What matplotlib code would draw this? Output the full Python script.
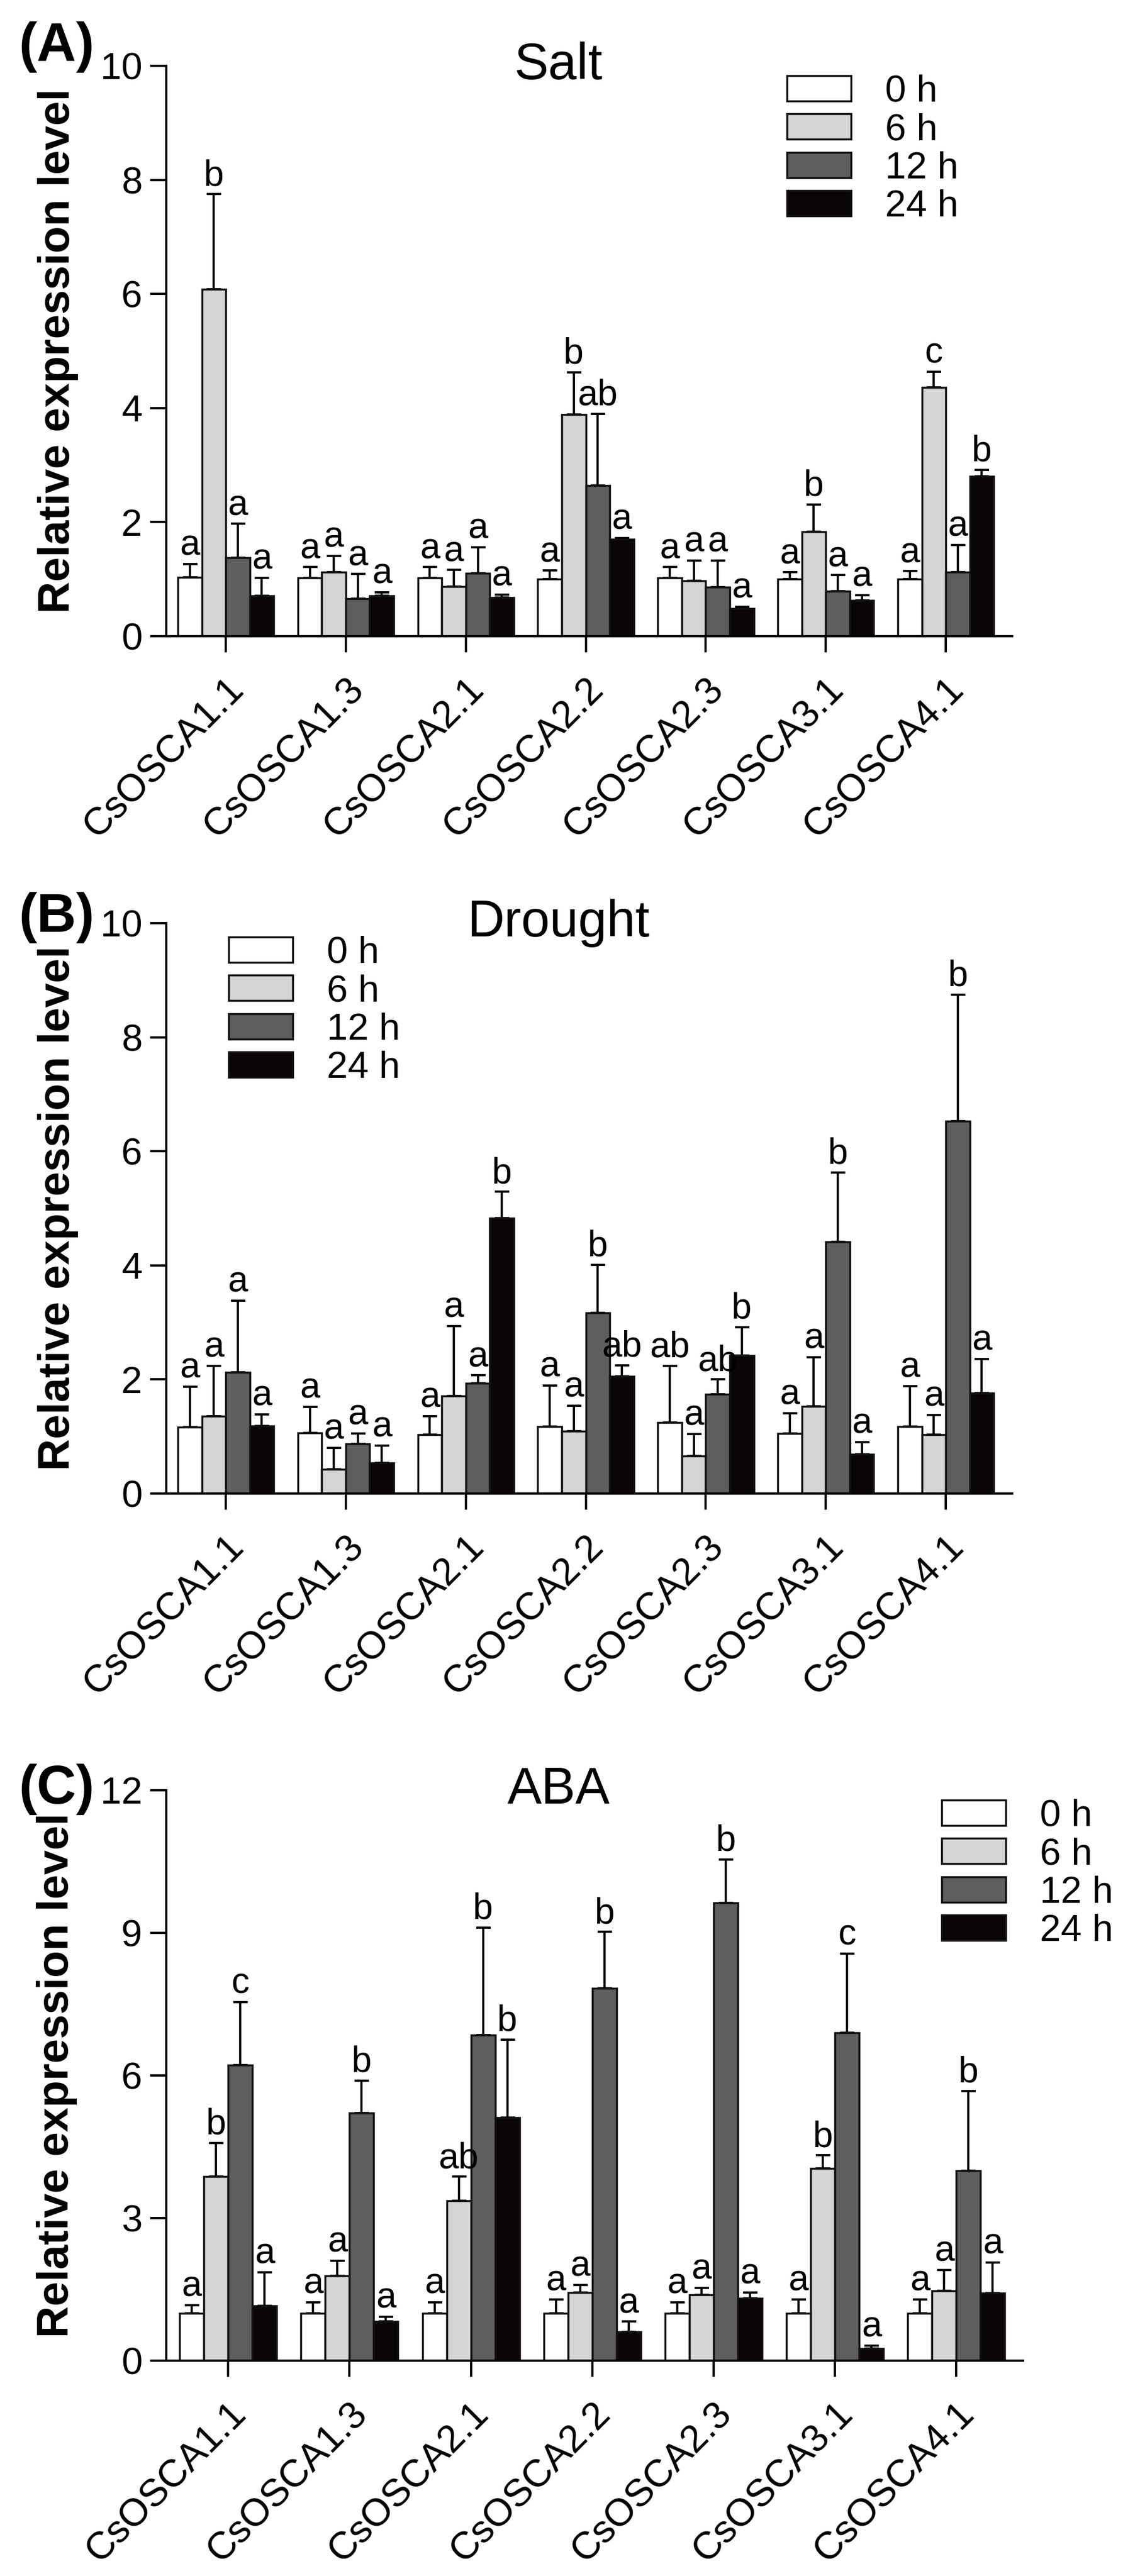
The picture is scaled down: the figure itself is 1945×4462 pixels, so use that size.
import matplotlib

matplotlib.use("Agg")

import matplotlib.pyplot as plt
import numpy as np
from matplotlib import font_manager

genes = ["CsOSCA1.1", "CsOSCA1.3", "CsOSCA2.1", "CsOSCA2.2", "CsOSCA2.3", "CsOSCA3.1", "CsOSCA4.1"]
times = ["0 h", "6 h", "12 h", "24 h"]

# Salt
salt_mean = [
    [1.03, 1.02, 1.02, 1.00, 1.02, 1.00, 1.00],
    [6.08, 1.12, 0.87, 3.89, 0.97, 1.83, 4.36],
    [1.38, 0.66, 1.10, 2.64, 0.86, 0.79, 1.12],
    [0.71, 0.71, 0.68, 1.70, 0.49, 0.63, 2.80],
]
salt_sd = [
    [0.24, 0.19, 0.19, 0.15, 0.19, 0.12, 0.14],
    [1.67, 0.29, 0.29, 0.74, 0.36, 0.48, 0.28],
    [0.59, 0.43, 0.46, 1.26, 0.47, 0.28, 0.48],
    [0.31, 0.06, 0.05, 0.02, 0.03, 0.09, 0.12],
]
salt_letters = [
    ["a", "a", "a", "a", "a", "a", "a"],
    ["b", "a", "a", "b", "a", "b", "c"],
    ["a", "a", "a", "ab", "a", "a", "a"],
    ["a", "a", "a", "a", "a", "a", "b"],
]

# Drought
drought_mean = [
    [1.16, 1.06, 1.03, 1.17, 1.25, 1.05, 1.17],
    [1.36, 0.43, 1.71, 1.09, 0.66, 1.53, 1.03],
    [2.13, 0.87, 1.93, 3.17, 1.74, 4.41, 6.53],
    [1.18, 0.54, 4.83, 2.05, 2.42, 0.69, 1.76],
]
drought_sd = [
    [0.71, 0.46, 0.33, 0.72, 0.99, 0.36, 0.71],
    [0.88, 0.37, 1.23, 0.45, 0.38, 0.86, 0.35],
    [1.25, 0.18, 0.14, 0.84, 0.26, 1.22, 2.22],
    [0.21, 0.30, 0.46, 0.20, 0.50, 0.21, 0.60],
]
drought_letters = [
    ["a", "a", "a", "a", "ab", "a", "a"],
    ["a", "a", "a", "a", "a", "a", "a"],
    ["a", "a", "a", "b", "ab", "b", "b"],
    ["a", "a", "b", "ab", "b", "a", "a"],
]

# ABA
aba_mean = [
    [1.00, 1.00, 1.00, 1.00, 1.00, 1.00, 1.00],
    [3.87, 1.78, 3.37, 1.43, 1.39, 4.05, 1.47],
    [6.22, 5.21, 6.85, 7.83, 9.63, 6.90, 4.00],
    [1.15, 0.82, 5.11, 0.61, 1.31, 0.26, 1.42],
]
aba_sd = [
    [0.17, 0.23, 0.23, 0.29, 0.23, 0.29, 0.29],
    [0.71, 0.32, 0.50, 0.16, 0.14, 0.27, 0.44],
    [1.32, 0.68, 2.26, 1.19, 0.91, 1.66, 1.67],
    [0.71, 0.10, 1.64, 0.21, 0.12, 0.06, 0.65],
]
aba_letters = [
    ["a", "a", "a", "a", "a", "a", "a"],
    ["b", "a", "ab", "a", "a", "b", "a"],
    ["c", "b", "b", "b", "b", "c", "b"],
    ["a", "a", "b", "a", "a", "a", "a"],
]

colors = ["#ffffff", "#d4d6d5", "#5e5e5e", "#0a0605"]

installed = {f.name for f in font_manager.fontManager.ttflist}
family = "Liberation Sans Narrow" if "Liberation Sans Narrow" in installed else "Liberation Sans"
plt.rcParams["font.family"] = [family, "DejaVu Sans"]

W, H = 1945, 4462
fig = plt.figure(figsize=(W / 100, H / 100), dpi=100)


def draw_panel(rect, mean, sd, letters, title, tag, ymax, ystep, xlim, legend_xy, title_x):
    ax = fig.add_axes(rect)
    x = np.arange(len(genes))
    width = 0.2
    handles = []
    for i, t in enumerate(times):
        pos = x + (i - 1.5) * width
        m = np.asarray(mean[i])
        s = np.asarray(sd[i])
        ax.errorbar(pos, m, yerr=[np.zeros_like(s), s], fmt="none", ecolor="black",
                    elinewidth=2.7, capsize=9, capthick=2.7, zorder=1)
        b = ax.bar(pos, m, width, color=colors[i], edgecolor="#111111", linewidth=2.5,
                   label=t, zorder=2)
        handles.append(b)
        for p, top, lab in zip(pos, m + s, letters[i]):
            ax.annotate(lab, (p, top), xytext=(0, 11), textcoords="offset points",
                        ha="center", va="baseline", fontsize=45)
    ax.set_xlim(*xlim)
    ax.set_ylim(0, ymax)
    ax.set_yticks(np.arange(0, ymax + 0.01, ystep))
    ax.set_xticks(x)
    ax.set_xticklabels(genes, rotation=45, ha="right", va="top", rotation_mode="anchor",
                       fontsize=48)
    ax.spines["top"].set_visible(False)
    ax.spines["right"].set_visible(False)
    for sp in ("left", "bottom"):
        ax.spines[sp].set_linewidth(2.8)
    ax.tick_params(axis="both", direction="out", length=20, width=2.8)
    ax.tick_params(axis="y", pad=10, labelsize=47)
    ax.tick_params(axis="x", pad=24)
    ax.text(-0.128, 0.5, "Relative expression level", transform=ax.transAxes, rotation=90,
            ha="center", va="center", fontsize=55, fontweight="bold")
    ax.text(title_x, 1.0, title, transform=ax.transAxes, ha="center", va="center", fontsize=64)
    ax.legend(handles=handles, loc="upper left", bbox_to_anchor=legend_xy, frameon=False,
              fontsize=47, handlelength=1.7, handleheight=0.66, handletextpad=0.9,
              labelspacing=0.1, borderpad=0, borderaxespad=0)
    fig.text(98 / W, tag[1], tag[0], ha="center", va="center", fontsize=68, fontweight="bold")
    return ax


draw_panel([288 / W, 1 - 1102 / H, 1465 / W, 988 / H], salt_mean, salt_sd, salt_letters,
           "Salt", ("(A)", 1 - 82 / H), 10, 2, (-0.496, 6.553), (0.734, 0.985), 0.464)
draw_panel([288 / W, 1 - 2587 / H, 1465 / W, 988 / H], drought_mean, drought_sd, drought_letters,
           "Drought", ("(B)", 1 - 1590 / H), 10, 2, (-0.496, 6.553), (0.074, 0.978), 0.464)
draw_panel([288 / W, 1 - 4089 / H, 1484 / W, 988 / H], aba_mean, aba_sd, aba_letters,
           "ABA", ("(C)", 1 - 3099 / H), 12, 3, (-0.51, 6.55), (0.905, 0.985), 0.458)

fig.savefig("out.png", dpi=100)
